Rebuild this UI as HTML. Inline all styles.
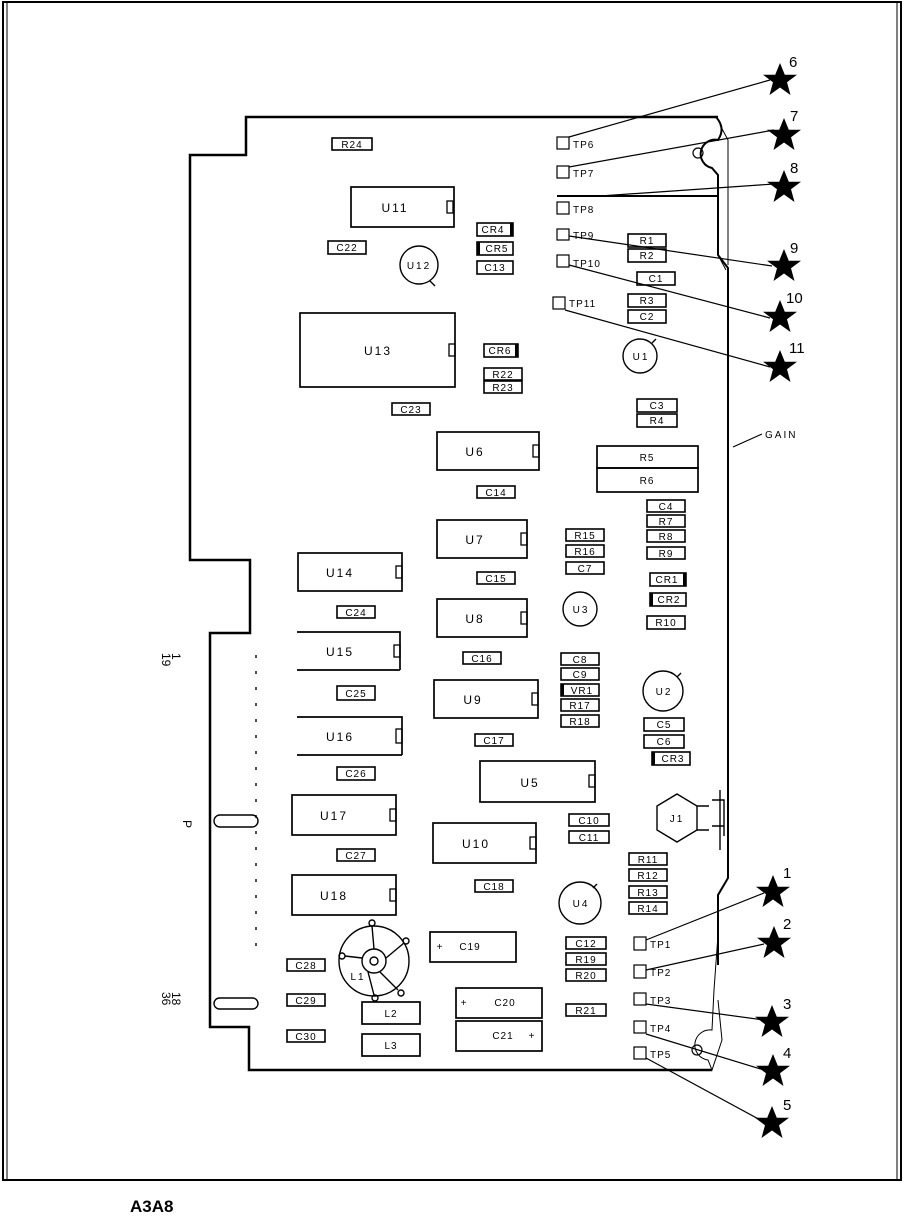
<!DOCTYPE html>
<html><head><meta charset="utf-8"><style>
html,body{margin:0;padding:0;background:#fff}
svg{display:block}
text{font-family:"Liberation Sans",sans-serif;fill:#000}
.c{font-size:10px;letter-spacing:1px;text-anchor:middle}
.u{font-size:12px;letter-spacing:2px;text-anchor:middle}
.n{font-size:15px}
</style></head><body>
<svg width="908" height="1226" viewBox="0 0 908 1226" xmlns="http://www.w3.org/2000/svg">
<defs>
<path id="star" d="M0,-17 L4.8,-5.3 L17,-5.3 L7,2.2 L10.5,15 L0,7.5 L-10.5,15 L-7,2.2 L-17,-5.3 L-4.8,-5.3 Z" fill="#000"/>
</defs>
<g fill="none" stroke="#000">
<rect x="3" y="2" width="898" height="1178" stroke-width="2"/>
<line x1="7" y1="2" x2="7" y2="1180" stroke-width="1"/>
<line x1="897" y1="2" x2="897" y2="1180" stroke-width="1"/>
<!-- board outline -->
<path d="M718,117 L246,117 L246,155 L190,155 L190,560 L250,560 L250,633 L210,633 L210,1027 L249,1027 L249,1070 L712,1070" stroke-width="2.5"/>
<path d="M716,117 Q726,128 718,140 A12,12 0 1 0 712,168 L718,175 L718,255 L728,268 L728,878 L718,895 L718,965" stroke-width="2"/>
<path d="M720,125 L728,140 L728,265 M718,255 L726,270" stroke-width="1"/>
<path d="M718,935 L714,990 L712,1030 A12,12 0 1 0 708,1060 L712,1070 L722,1040 L718,1000" stroke-width="1"/>
<circle cx="698" cy="153" r="5" stroke-width="1.2"/>
<circle cx="697" cy="1050" r="5" stroke-width="1.2"/>
<line x1="557" y1="196" x2="718" y2="196" stroke-width="2"/>
<!-- leaders -->
<g stroke-width="1.2">
<line x1="569" y1="137" x2="770" y2="80"/>
<line x1="569" y1="167" x2="774" y2="130"/>
<line x1="600" y1="196" x2="774" y2="184"/>
<line x1="569" y1="236" x2="772" y2="266"/>
<line x1="569" y1="265" x2="770" y2="318"/>
<line x1="565" y1="310" x2="770" y2="367"/>
<line x1="646" y1="940" x2="764" y2="893"/>
<line x1="646" y1="970" x2="764" y2="944"/>
<line x1="646" y1="1004" x2="764" y2="1020"/>
<line x1="646" y1="1034" x2="764" y2="1070"/>
<line x1="646" y1="1058" x2="764" y2="1122"/>
<line x1="733" y1="447" x2="762" y2="434"/>
</g>
<!-- TP boxes -->
<g stroke-width="1.2">
<rect x="557" y="137" width="12" height="12"/><rect x="557" y="166" width="12" height="12"/>
<rect x="557" y="202" width="12" height="12"/><rect x="557" y="229" width="12" height="11"/>
<rect x="557" y="255" width="12" height="12"/><rect x="553" y="297" width="12" height="12"/>
<rect x="634" y="937" width="12" height="13"/><rect x="634" y="965" width="12" height="13"/>
<rect x="634" y="993" width="12" height="12"/><rect x="634" y="1021" width="12" height="12"/>
<rect x="634" y="1047" width="12" height="12"/>
</g>
<!-- ICs -->
<g stroke-width="1.7">
<rect x="351" y="187" width="103" height="40"/><rect x="300" y="313" width="155" height="74"/>
<rect x="437" y="432" width="102" height="38"/><rect x="437" y="520" width="90" height="38"/>
<rect x="298" y="553" width="104" height="38"/><rect x="437" y="599" width="90" height="38"/>
<path d="M297,632 L400,632 L400,670 M297,670 L400,670"/>
<rect x="434" y="680" width="104" height="38"/>
<path d="M297,717 L402,717 L402,755 M297,755 L402,755"/>
<rect x="480" y="761" width="115" height="41"/><rect x="292" y="795" width="104" height="40"/>
<rect x="433" y="823" width="103" height="40"/><rect x="292" y="875" width="104" height="40"/>
<rect x="597" y="446" width="101" height="22"/><rect x="597" y="468" width="101" height="24"/>
<rect x="430" y="932" width="86" height="30"/><rect x="456" y="988" width="86" height="30"/>
<rect x="456" y="1021" width="86" height="30"/>
<rect x="362" y="1002" width="58" height="22"/><rect x="362" y="1034" width="58" height="22"/>
</g>
<g stroke-width="1.3">
<rect x="447" y="201" width="6" height="12"/><rect x="449" y="344" width="6" height="12"/>
<rect x="533" y="445" width="6" height="12"/><rect x="521" y="533" width="6" height="12"/>
<rect x="396" y="566" width="6" height="12"/><rect x="521" y="612" width="6" height="12"/>
<rect x="394" y="645" width="6" height="12"/><rect x="532" y="693" width="6" height="12"/>
<rect x="396" y="729" width="6" height="14"/><rect x="589" y="775" width="6" height="12"/>
<rect x="390" y="809" width="6" height="12"/><rect x="530" y="837" width="6" height="12"/>
<rect x="390" y="889" width="6" height="12"/>
</g>
<!-- small parts -->
<g stroke-width="1.6">
<rect x="332" y="138" width="40" height="12"/><rect x="477" y="223" width="36" height="13"/>
<rect x="477" y="242" width="36" height="13"/><rect x="477" y="261" width="36" height="13"/>
<rect x="328" y="241" width="38" height="13"/>
<rect x="628" y="234" width="38" height="13"/><rect x="628" y="249" width="38" height="13"/>
<rect x="637" y="272" width="38" height="13"/><rect x="628" y="294" width="38" height="13"/>
<rect x="628" y="310" width="38" height="13"/>
<rect x="484" y="344" width="34" height="13"/><rect x="484" y="368" width="38" height="12"/>
<rect x="484" y="381" width="38" height="12"/><rect x="392" y="403" width="38" height="12"/>
<rect x="637" y="399" width="40" height="13"/><rect x="637" y="414" width="40" height="13"/>
<rect x="477" y="486" width="38" height="12"/>
<rect x="647" y="500" width="38" height="12"/><rect x="647" y="515" width="38" height="12"/>
<rect x="647" y="530" width="38" height="12"/><rect x="647" y="547" width="38" height="12"/>
<rect x="566" y="529" width="38" height="12"/><rect x="566" y="545" width="38" height="12"/>
<rect x="566" y="562" width="38" height="12"/><rect x="477" y="572" width="38" height="12"/>
<rect x="650" y="573" width="36" height="13"/><rect x="650" y="593" width="36" height="13"/>
<rect x="337" y="606" width="38" height="12"/><rect x="647" y="616" width="38" height="13"/>
<rect x="463" y="652" width="38" height="12"/>
<rect x="561" y="653" width="38" height="12"/><rect x="561" y="668" width="38" height="12"/>
<rect x="561" y="684" width="38" height="12"/><rect x="561" y="699" width="38" height="12"/>
<rect x="561" y="715" width="38" height="12"/><rect x="337" y="686" width="38" height="14"/>
<rect x="644" y="718" width="40" height="13"/><rect x="644" y="735" width="40" height="13"/>
<rect x="475" y="734" width="38" height="12"/><rect x="652" y="752" width="38" height="13"/>
<rect x="337" y="767" width="38" height="13"/>
<rect x="569" y="814" width="40" height="12"/><rect x="569" y="831" width="40" height="12"/>
<rect x="337" y="849" width="38" height="12"/>
<rect x="629" y="853" width="38" height="12"/><rect x="629" y="869" width="38" height="12"/>
<rect x="629" y="886" width="38" height="12"/><rect x="629" y="902" width="38" height="12"/>
<rect x="475" y="880" width="38" height="12"/>
<rect x="566" y="937" width="40" height="12"/><rect x="566" y="953" width="40" height="12"/>
<rect x="566" y="969" width="40" height="12"/><rect x="566" y="1004" width="40" height="12"/>
<rect x="287" y="959" width="38" height="12"/><rect x="287" y="994" width="38" height="12"/>
<rect x="287" y="1030" width="38" height="12"/>
</g>
<g fill="#000" stroke="none">
<rect x="510" y="223" width="3" height="13"/><rect x="477" y="242" width="3" height="13"/>
<rect x="515" y="344" width="3" height="13"/><rect x="683" y="573" width="3" height="13"/>
<rect x="650" y="593" width="3" height="13"/><rect x="561" y="684" width="3" height="12"/>
<rect x="652" y="752" width="3" height="13"/>
</g>
<!-- round parts -->
<g stroke-width="1.4">
<circle cx="419" cy="265" r="19"/><circle cx="640" cy="356" r="17"/>
<circle cx="580" cy="609" r="17"/><circle cx="663" cy="691" r="20"/>
<circle cx="580" cy="903" r="21"/>
<path d="M430,281 l5,5 M652,343 l4,-4 M677,677 l4,-4 M593,888 l4,-4"/>
<polygon points="677,794 697,806 697,830 677,842 657,830 657,806"/>
<path d="M697,806 h12 M697,830 h12 M712,800 h12 v10 M712,826 h12 M724,800 v36 M720,790 v60"/>
<circle cx="374" cy="961" r="35"/><circle cx="374" cy="961" r="12"/><circle cx="374" cy="961" r="4"/>
<path d="M374,949 L372,926 M386,958 L404,943 M380,972 L398,990 M368,972 L374,995 M362,958 L345,956"/>
<circle cx="372" cy="923" r="3"/><circle cx="406" cy="941" r="3"/><circle cx="401" cy="993" r="3"/><circle cx="375" cy="998" r="3"/><circle cx="342" cy="956" r="3"/>
<!-- connector slots -->
<rect x="214" y="815" width="44" height="12" rx="6"/><rect x="214" y="998" width="44" height="11" rx="5.5"/>
<line x1="256" y1="655" x2="256" y2="950" stroke-dasharray="3,13"/>
</g>
</g>
<!-- stars -->
<use href="#star" x="780" y="80"/><use href="#star" x="784" y="135"/><use href="#star" x="784" y="187"/>
<use href="#star" x="784" y="266"/><use href="#star" x="780" y="317"/><use href="#star" x="780" y="367"/>
<use href="#star" x="773" y="892"/><use href="#star" x="774" y="943"/><use href="#star" x="772" y="1022"/>
<use href="#star" x="773" y="1071"/><use href="#star" x="772" y="1123"/>
<g class="n">
<text x="789" y="67">6</text><text x="790" y="121">7</text><text x="790" y="173">8</text>
<text x="790" y="253">9</text><text x="786" y="303">10</text><text x="789" y="353">11</text>
<text x="783" y="878">1</text><text x="783" y="929">2</text><text x="783" y="1009">3</text>
<text x="783" y="1058">4</text><text x="783" y="1110">5</text>
</g>
<g style="font-size:10px;letter-spacing:1px">
<text x="573" y="148">TP6</text><text x="573" y="177">TP7</text><text x="573" y="213">TP8</text>
<text x="573" y="239">TP9</text><text x="573" y="267">TP10</text><text x="569" y="307">TP11</text>
<text x="650" y="948">TP1</text><text x="650" y="976">TP2</text><text x="650" y="1004">TP3</text>
<text x="650" y="1032">TP4</text><text x="650" y="1058">TP5</text>
<text x="765" y="438" style="letter-spacing:2px">GAIN</text>
</g>
<g class="u">
<text x="395" y="212">U11</text><text x="378" y="355">U13</text><text x="475" y="456">U6</text>
<text x="475" y="544">U7</text><text x="340" y="577">U14</text><text x="475" y="623">U8</text>
<text x="340" y="656">U15</text><text x="473" y="704">U9</text><text x="340" y="741">U16</text>
<text x="530" y="787">U5</text><text x="334" y="820">U17</text><text x="476" y="848">U10</text>
<text x="334" y="900">U18</text><text x="419" y="269" style="font-size:10px">U12</text>
<text x="641" y="360" style="font-size:10px">U1</text><text x="581" y="613" style="font-size:10px">U3</text>
<text x="664" y="695" style="font-size:10px">U2</text><text x="581" y="907" style="font-size:10px">U4</text>
<text x="677" y="822" style="font-size:10px">J1</text><text x="358" y="980" style="font-size:10px">L1</text>
</g>
<g class="c">
<text x="352" y="148">R24</text><text x="493" y="233">CR4</text><text x="497" y="252">CR5</text><text x="495" y="271">C13</text>
<text x="347" y="251">C22</text><text x="647" y="244">R1</text><text x="647" y="259">R2</text>
<text x="656" y="282">C1</text><text x="647" y="304">R3</text><text x="647" y="320">C2</text>
<text x="500" y="354">CR6</text><text x="503" y="378">R22</text><text x="503" y="391">R23</text>
<text x="411" y="413">C23</text><text x="657" y="409">C3</text><text x="657" y="424">R4</text>
<text x="647" y="461">R5</text><text x="647" y="484">R6</text><text x="496" y="496">C14</text>
<text x="666" y="510">C4</text><text x="666" y="525">R7</text><text x="666" y="540">R8</text><text x="666" y="557">R9</text>
<text x="585" y="539">R15</text><text x="585" y="555">R16</text><text x="585" y="572">C7</text>
<text x="496" y="582">C15</text><text x="667" y="583">CR1</text><text x="669" y="603">CR2</text>
<text x="356" y="616">C24</text><text x="666" y="626">R10</text><text x="482" y="662">C16</text>
<text x="580" y="663">C8</text><text x="580" y="678">C9</text><text x="582" y="694">VR1</text>
<text x="580" y="709">R17</text><text x="580" y="725">R18</text><text x="356" y="697">C25</text>
<text x="664" y="728">C5</text><text x="664" y="745">C6</text><text x="494" y="744">C17</text>
<text x="673" y="762">CR3</text><text x="356" y="777">C26</text>
<text x="589" y="824">C10</text><text x="589" y="841">C11</text><text x="356" y="859">C27</text>
<text x="648" y="863">R11</text><text x="648" y="879">R12</text><text x="648" y="896">R13</text><text x="648" y="912">R14</text>
<text x="494" y="890">C18</text><text x="586" y="947">C12</text><text x="586" y="963">R19</text><text x="586" y="979">R20</text>
<text x="586" y="1014">R21</text><text x="306" y="969">C28</text><text x="306" y="1004">C29</text><text x="306" y="1040">C30</text>
<text x="391" y="1017">L2</text><text x="391" y="1049">L3</text>
<text x="440" y="950">+</text><text x="470" y="950">C19</text>
<text x="464" y="1006">+</text><text x="505" y="1006">C20</text>
<text x="503" y="1039">C21</text><text x="532" y="1039">+</text>
</g>
<g style="font-size:12px">
<text transform="translate(172,653) rotate(90)">1</text>
<text transform="translate(162,653) rotate(90)">19</text>
<text transform="translate(183,820) rotate(90)">P</text>
<text transform="translate(172,992) rotate(90)">18</text>
<text transform="translate(162,992) rotate(90)">36</text>
</g>
<text x="130" y="1212" style="font-size:17px;font-weight:bold">A3A8</text>
</svg>
</body></html>
